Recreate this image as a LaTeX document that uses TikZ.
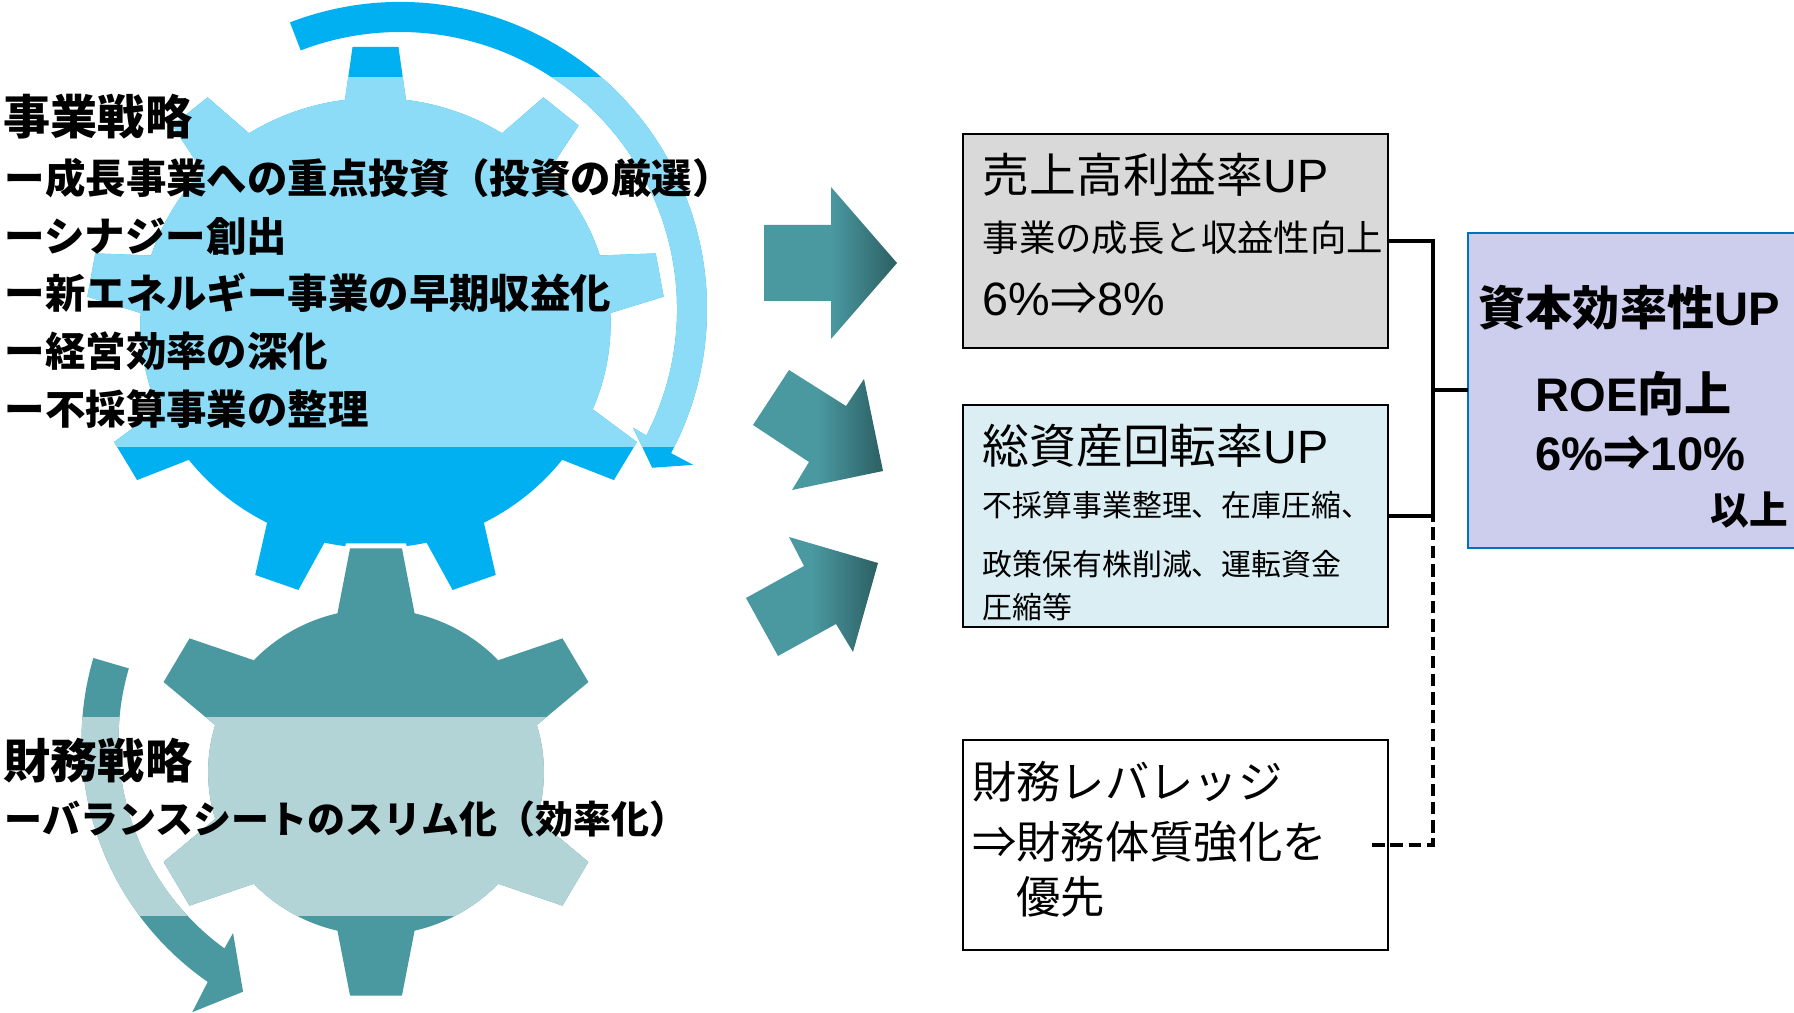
\documentclass[tikz,border=0pt]{standalone}
\usepackage{fontspec}
\newfontfamily\jp{Noto Sans CJK JP}
\newfontfamily\lat{Liberation Sans}

\definecolor{cogblue}{HTML}{00B0F0}
\definecolor{cogteal}{HTML}{4A99A0}
\definecolor{tipteal}{HTML}{2C5F63}
\definecolor{boxgray}{HTML}{D9D9D9}
\definecolor{boxcyan}{HTML}{DBEEF3}
\definecolor{boxlila}{HTML}{CDCDEE}
\definecolor{roeblue}{HTML}{0070C0}

% cog: body radius, teeth, first tooth, foot radius, foot half angle, tip radius, tip half angle
\newcommand{\cogpath}[7]{(0,0) circle[radius=#1]
  \foreach \k in {1,...,#2}{
    ({#3+360*\k/#2-#5}:#4) -- ({#3+360*\k/#2-#7}:#6)
    -- ({#3+360*\k/#2+#7}:#6) -- ({#3+360*\k/#2+#5}:#4) -- cycle}}
% turning arrows around the cogs
\newcommand{\bluering}{(-111:307) arc[start angle=-111, end angle=28, radius=307]
  -- (28:332) -- (32.2:298) -- (27:261.6) -- (27.2:277)
  arc[start angle=27.2, end angle=-111, radius=277] -- cycle}
\newcommand{\tealring}{(196.3:294) arc[start angle=196.3, end angle=124.8, radius=294]
  -- (124:327.7) -- (117.8:284) -- (126.5:239.5) -- (126:257)
  arc[start angle=126, end angle=196.3, radius=257] -- cycle}

\begin{document}
\begin{tikzpicture}[x=0.01cm, y=-0.01cm,
  box/.style={draw, line width=0.02cm, inner sep=0pt, outer sep=0pt},
  txt/.style={anchor=base west, inner sep=0pt},
  head/.style={txt, font=\jp\bfseries\fontsize{13.4pt}{16pt}\selectfont},
  item/.style={txt, font=\jp\bfseries\fontsize{11.5pt}{14pt}\selectfont},
  ttl/.style={txt, font=\jp\fontsize{13.3pt}{16pt}\selectfont},
  sub/.style={txt, font=\jp\fontsize{10.35pt}{12pt}\selectfont},
  small/.style={txt, font=\jp\fontsize{8.5pt}{10pt}\selectfont},
  lev/.style={txt, font=\jp\fontsize{12.6pt}{15pt}\selectfont},
  big/.style={txt, font=\jp\bfseries\fontsize{13.4pt}{16pt}\selectfont},
  arr/.style={left color=cogteal, right color=tipteal, middle color=cogteal},
  link/.style={line width=0.04cm}]
  \useasboundingbox (0,0) rectangle (1794,1013);

  % business cog
  \fill[cogblue, shift={(375.5,323)}, xscale=1.045] \cogpath{225}{9}{-90}{210}{8.57}{277}{4.55};
  \fill[cogblue, shift={(400,309)}] \bluering;
  \begin{scope}
    \clip (0,78) rectangle (760,447);
    \fill[cogblue!45, shift={(375.5,323)}, xscale=1.045] \cogpath{225}{9}{-90}{210}{8.57}{277}{4.55};
    \fill[cogblue!45, shift={(400,309)}] \bluering;
  \end{scope}

  % finance cog
  \draw[white, line width=0.1cm, shift={(376,772)}, xscale=1.03] \cogpath{163}{6}{-90}{145}{16.5}{225}{6.43};
  \fill[cogteal, shift={(376,772)}, xscale=1.03] \cogpath{163}{6}{-90}{145}{16.5}{225}{6.43};
  \fill[cogteal, shift={(375.5,740.5)}] \tealring;
  \begin{scope}
    \clip (0,718) rectangle (700,915);
    \fill[cogteal!42, shift={(376,772)}, xscale=1.03] \cogpath{163}{6}{-90}{145}{16.5}{225}{6.43};
    \fill[cogteal!42, shift={(375.5,740.5)}] \tealring;
  \end{scope}

  \node[head] (biz) at (3,135) {事業戦略};
  \node[item] (biz1) at (4,193.4) {ー成長事業への重点投資（投資の厳選）};
  \node[item] (biz2) at (4,251.4) {ーシナジー創出};
  \node[item] (biz3) at (4,308.4) {ー新エネルギー事業の早期収益化};
  \node[item] (biz4) at (4,366.4) {ー経営効率の深化};
  \node[item] (biz5) at (4,424.4) {ー不採算事業の整理};

  \node[head] (fnc) at (3,778) {財務戦略};
  \node[item, font=\jp\bfseries\fontsize{10.8pt}{13pt}\selectfont] (fnc1) at (4,833.4)
    {ーバランスシートのスリム化（効率化）};

  \shade[arr] (764,225) -- (831,225) -- (831,187) -- (897,263) -- (831,339) -- (831,301) -- (764,301) -- cycle;
  \shade[arr] (753,425) -- (789,370) -- (846,406) -- (864,379) -- (883,471) -- (792,490) -- (809,462) -- cycle;
  \shade[arr] (746,598) -- (804,566) -- (789,537) -- (878,563) -- (853,652) -- (836,624) -- (778,656) -- cycle;

  \node[box, fill=boxgray, minimum width=4.25cm, minimum height=2.14cm] (prof) at (1175.5,241) {};
  \node[ttl] (profT) at (982,192.5) {売上高利益率{\lat UP}};
  \node[sub] (profS) at (982,252) {事業の成長と収益性向上};
  \node[ttl] (profV) at (982,316) {{\lat 6\%}⇒{\lat 8\%}};

  \node[box, fill=boxcyan, minimum width=4.25cm, minimum height=2.22cm] (turn) at (1175.5,516) {};
  \node[ttl] (turnT) at (982,464) {総資産回転率{\lat UP}};
  \node[small] (turnA) at (982,517) {不採算事業整理、在庫圧縮、};
  \node[small] (turnB) at (982,576) {政策保有株削減、運転資金};
  \node[small] (turnC) at (982,619) {圧縮等};

  \node[box, fill=white, minimum width=4.25cm, minimum height=2.10cm] (fin) at (1175.5,845) {};
  \node[lev] (finA) at (971.5,798) {財務レバレッジ};
  \node[lev] (finB) at (971.5,858) {⇒財務体質強化を};
  \node[lev] (finC) at (971.5,913) {　優先};

  \node[box, draw=roeblue, fill=boxlila, minimum width=3.4cm, minimum height=3.15cm] (roe) at (1638,390.5) {};
  \node[big] (roeT) at (1478,326) {資本効率性{\lat UP}};
  \node[big] (roeA) at (1535,412) {{\lat ROE}向上};
  \node[big] (roeB) at (1535,471) {{\lat 6\%}⇒{\lat 10\%}};
  \node[big, anchor=base east, font=\jp\bfseries\fontsize{11pt}{13pt}\selectfont] (roeC) at (1789,525) {以上};

  \coordinate (jn) at (1433,390.5);
  \draw[link, dash pattern=on 3.6pt off 1.6pt, shorten <=-0.16cm] (fin.east) -| (jn);
  \draw[link] (prof.east) -| (jn);
  \draw[link] (turn.east) -| (jn);
  \draw[link] (jn) -- (roe.west);
\end{tikzpicture}
\end{document}
